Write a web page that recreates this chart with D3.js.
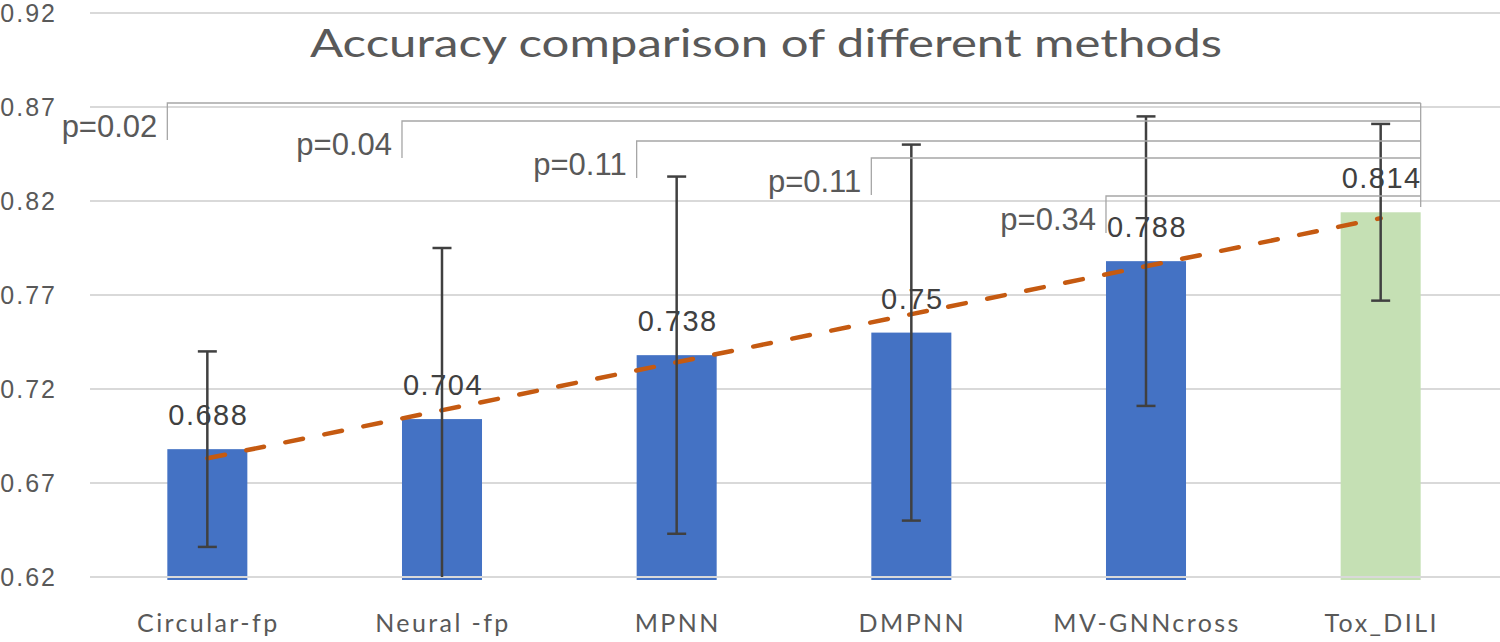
<!DOCTYPE html>
<html>
<head>
<meta charset="utf-8">
<script src="https://cdn.jsdelivr.net/npm/d3@7"></script>
<style>
  html, body { margin: 0; padding: 0; background: #fff; }
  svg { display: block; }
</style>
</head>
<body>
<svg id="chart" width="1500" height="642"></svg>
<script>
// ---- data ----
const categories = ["Circular-fp", "Neural -fp", "MPNN", "DMPNN", "MV-GNNcross", "Tox_DILI"];
const accuracy   = [0.688, 0.704, 0.738, 0.75, 0.788, 0.814];
const errorSize  = [0.052, 0.091, 0.095, 0.100, 0.077, 0.047];
const valueLabels = ["0.688", "0.704", "0.738", "0.75", "0.788", "0.814"];
const yTicks      = [0.62, 0.67, 0.72, 0.77, 0.82, 0.87, 0.92];
const yTickLabels = ["0.62", "0.67", "0.72", "0.77", "0.82", "0.87", "0.92"];
const compared    = ["Circular-fp", "Neural -fp", "MPNN", "DMPNN", "MV-GNNcross"];
const reference   = "Tox_DILI";
const pLabels     = ["p=0.02", "p=0.04", "p=0.11", "p=0.11", "p=0.34"];
const title = "Accuracy comparison of different methods";

// ---- layout ----
const W = 1500, H = 642;
const svg = d3.select("#chart");
const x = d3.scaleBand().domain(categories).range([90, 1498]).paddingInner(0.659).paddingOuter(0.3295);
const y = d3.scaleLinear().domain([0.62, 0.92]).range([577, 13]);
const numFont = "'Liberation Sans', Arial, sans-serif";
const txtFont = "Lato, 'Open Sans', sans-serif";

// gridlines
svg.append("g").selectAll("line").data(yTicks).join("line")
  .attr("x1", 90).attr("x2", W)
  .attr("y1", d => y(d)).attr("y2", d => y(d))
  .attr("stroke", "#d9d9d9").attr("stroke-width", 2);

// y tick labels
svg.append("g").selectAll("text").data(yTicks).join("text")
  .attr("x", 57).attr("y", d => y(d)).attr("dy", "0.36em")
  .attr("text-anchor", "end")
  .attr("font-family", numFont).attr("font-size", 25).attr("letter-spacing", 2)
  .attr("fill", "#595959")
  .text((d, i) => yTickLabels[i]);

// bars
svg.append("g").selectAll("rect").data(categories).join("rect")
  .attr("x", d => x(d)).attr("width", x.bandwidth())
  .attr("y", (d, i) => y(accuracy[i]))
  .attr("height", (d, i) => y(0.62) - y(accuracy[i]) + 3)
  .attr("fill", d => d === reference ? "#c5e0b4" : "#4472c4");

// baseline over bars
svg.append("line").attr("x1", 90).attr("x2", W).attr("y1", y(0.62)).attr("y2", y(0.62))
  .attr("stroke", "#d9d9d9").attr("stroke-width", 2);

// data labels
svg.append("g").selectAll("text").data(categories).join("text")
  .attr("x", d => x(d) + x.bandwidth() / 2 + 1)
  .attr("y", (d, i) => y(accuracy[i]) - 24)
  .attr("text-anchor", "middle")
  .attr("font-family", numFont).attr("font-size", 29).attr("letter-spacing", 1.5)
  .attr("fill", "#404040")
  .text((d, i) => valueLabels[i]);

// trendline (least squares over category index)
const n = accuracy.length;
const xs = d3.range(n);
const mx = d3.mean(xs), my = d3.mean(accuracy);
const slope = d3.sum(xs, i => (i - mx) * (accuracy[i] - my)) / d3.sum(xs, i => (i - mx) ** 2);
const icpt = my - slope * mx;
const cx = i => x(categories[0]) + x.bandwidth() / 2 + i * x.step();
svg.append("line")
  .attr("x1", cx(0)).attr("y1", y(icpt))
  .attr("x2", cx(n - 1)).attr("y2", y(icpt + slope * (n - 1)))
  .attr("stroke", "#c55a11").attr("stroke-width", 4.5)
  .attr("stroke-linecap", "round")
  .attr("stroke-dasharray", "18 21.8");

// error bars (clipped to plot area)
svg.append("defs").append("clipPath").attr("id", "plotclip")
  .append("rect").attr("x", 0).attr("y", 0).attr("width", W).attr("height", y(0.62));
const eb = svg.append("g").attr("clip-path", "url(#plotclip)");
categories.forEach((c, i) => {
  const xc = x(c) + x.bandwidth() / 2;
  const top = y(accuracy[i] + errorSize[i]), bot = y(accuracy[i] - errorSize[i]);
  eb.append("line").attr("x1", xc).attr("x2", xc).attr("y1", top).attr("y2", bot)
    .attr("stroke", "#404040").attr("stroke-width", 2.5);
  [top, bot].forEach(yy => eb.append("line")
    .attr("x1", xc - 9.5).attr("x2", xc + 9.5).attr("y1", yy).attr("y2", yy)
    .attr("stroke", "#404040").attr("stroke-width", 2.5));
});

// significance brackets
const bracketTop = [103, 121, 141, 158, 196];
const drop = 37;
const rightX = x(reference) + x.bandwidth();
const br = svg.append("g").attr("stroke", "#a6a6a6").attr("stroke-width", 1.3).attr("fill", "none");
compared.forEach((c, i) => {
  const lx = x(c);
  br.append("path").attr("d", `M${lx},${bracketTop[i] + drop} V${bracketTop[i]} H${rightX}`);
});
br.append("line").attr("x1", rightX).attr("x2", rightX)
  .attr("y1", d3.min(bracketTop)).attr("y2", 207);
svg.append("g").selectAll("text").data(compared).join("text")
  .attr("x", d => x(d) - 10)
  .attr("y", (d, i) => bracketTop[i] + 34)
  .attr("text-anchor", "end")
  .attr("font-family", numFont).attr("font-size", 31)
  .attr("fill", "#595959")
  .text((d, i) => pLabels[i]);

// category labels
svg.append("g").selectAll("text").data(categories).join("text")
  .attr("x", d => x(d) + x.bandwidth() / 2 + 1)
  .attr("y", 632)
  .attr("text-anchor", "middle")
  .attr("font-family", txtFont).attr("font-size", 25).attr("letter-spacing", 2.4)
  .attr("fill", "#595959")
  .text(d => d);

// title
svg.append("text")
  .attr("x", 766).attr("y", 57)
  .attr("text-anchor", "middle")
  .attr("font-family", txtFont).attr("font-size", 38)
  .attr("textLength", 912).attr("lengthAdjust", "spacingAndGlyphs")
  .attr("fill", "#595959")
  .text(title);
</script>
</body>
</html>
